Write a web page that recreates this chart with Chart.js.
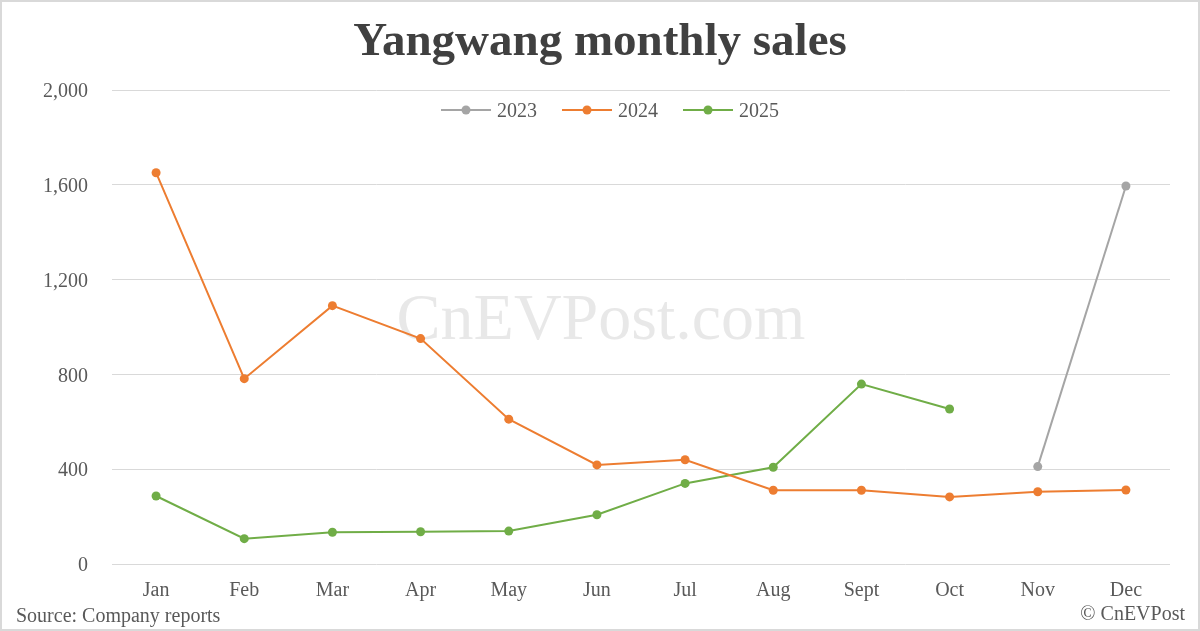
<!DOCTYPE html>
<html><head><meta charset="utf-8">
<script src="https://cdn.jsdelivr.net/npm/chart.js@4"></script>
<style>html,body{margin:0;padding:0;background:#fff;}#wrap{width:1200px;height:631px;position:relative;}</style>
</head><body><div id="wrap"><canvas id="c" width="1200" height="631"></canvas></div>
<script>
const titleText = "Yangwang monthly sales";
const months = ["Jan","Feb","Mar","Apr","May","Jun","Jul","Aug","Sept","Oct","Nov","Dec"];
const sales2023 = [null,null,null,null,null,null,null,null,null,null,411,1595];
const sales2024 = [1651,782,1090,951,611,418,440,311,311,283,305,312];
const sales2025 = [287,107,134,136,139,208,340,408,759,654,null,null];
const seriesNames = ["2023","2024","2025"];
const seriesColors = ["#a5a5a5","#ed7d31","#70ad47"];
const yMin = 0, yMax = 2000, yStep = 400;
const FONT = "'Liberation Serif','Times New Roman',serif";

const decor = {
  id: 'decor',
  beforeDraw(chart) {
    const ctx = chart.ctx;
    ctx.save();
    ctx.fillStyle = '#fff';
    ctx.fillRect(0,0,chart.width,chart.height);
    // watermark
    ctx.fillStyle = 'rgba(205,205,205,0.45)';
    ctx.font = "66px " + FONT;
    ctx.textAlign = 'center';
    ctx.textBaseline = 'middle';
    ctx.fillText("CnEVPost.com", 601, 322);
    ctx.restore();
  },
  afterDraw(chart) {
    const ctx = chart.ctx;
    ctx.save();
    // frame
    ctx.strokeStyle = '#d9d9d9';
    ctx.lineWidth = 2;
    ctx.strokeRect(1, 1, chart.width - 2, chart.height - 2);
    // title
    ctx.fillStyle = '#404040';
    ctx.font = "bold 47px " + FONT;
    ctx.textAlign = 'center';
    ctx.textBaseline = 'alphabetic';
    ctx.fillText(titleText, 600, 55);
    // legend inside plot
    ctx.font = "20px " + FONT;
    ctx.textBaseline = 'middle';
    ctx.textAlign = 'left';
    const starts = [441, 562, 683];
    chart.data.datasets.forEach((ds, i) => {
      const x = starts[i], y = 110;
      ctx.strokeStyle = ds.borderColor;
      ctx.lineWidth = 2;
      ctx.beginPath(); ctx.moveTo(x, y); ctx.lineTo(x + 50, y); ctx.stroke();
      ctx.fillStyle = ds.borderColor;
      ctx.beginPath(); ctx.arc(x + 25, y, 4.5, 0, Math.PI * 2); ctx.fill();
      ctx.fillStyle = '#595959';
      ctx.fillText(ds.label, x + 56, y + 2);
    });
    // footer
    ctx.fillStyle = '#595959';
    ctx.textBaseline = 'alphabetic';
    ctx.fillText("Source: Company reports", 16, 622);
    ctx.textAlign = 'right';
    ctx.fillText("\u00A9 CnEVPost", 1185, 620);
    ctx.restore();
  }
};

const datasets = [sales2023, sales2024, sales2025].map((d, i) => ({
  label: seriesNames[i],
  data: d,
  borderColor: seriesColors[i],
  backgroundColor: seriesColors[i],
  borderWidth: 2,
  pointRadius: 4.5,
  pointBorderWidth: 0,
  pointHoverRadius: 4.5,
  tension: 0,
  spanGaps: false
}));

new Chart(document.getElementById('c'), {
  type: 'line',
  data: { labels: months, datasets },
  options: {
    responsive: false,
    animation: false,
    devicePixelRatio: 1,
    layout: { padding: { top: 90, left: 0, right: 30, bottom: 0 } },
    plugins: { legend: { display: false }, title: { display: false }, tooltip: { enabled: false } },
    scales: {
      x: {
        offset: true,
        grid: { display: false, drawTicks: false },
        border: { display: false },
        ticks: { color: '#595959', font: { family: FONT, size: 20 }, padding: 15, maxRotation: 0, autoSkip: false },
        afterFit(s) { s.height = 67; }
      },
      y: {
        min: yMin, max: yMax,
        grid: { color: '#d9d9d9', lineWidth: 1, drawTicks: false },
        border: { display: false },
        ticks: {
          stepSize: yStep, color: '#595959', font: { family: FONT, size: 20 }, padding: 24, labelOffset: 2,
          callback: v => v.toLocaleString('en-US')
        },
        afterFit(s) { s.width = 112; }
      }
    }
  },
  plugins: [decor]
});
</script>
</body></html>
